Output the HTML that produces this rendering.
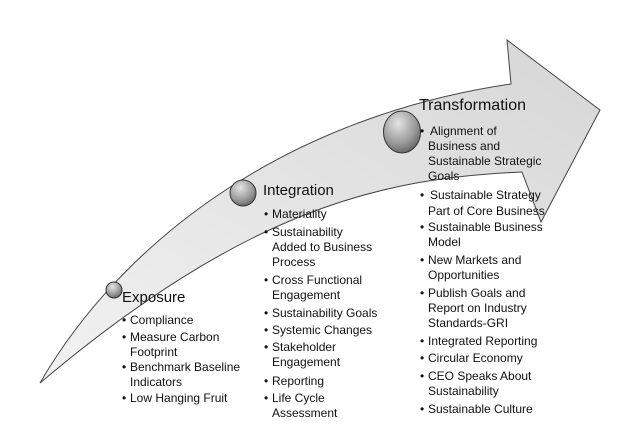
<!DOCTYPE html>
<html><head><style>
body{margin:0;width:640px;height:428px;background:#fff;position:relative;overflow:hidden;font-family:"Liberation Sans",Arial,sans-serif;color:#111}
.t{position:absolute;white-space:nowrap;line-height:15px;font-size:12px}
.h{position:absolute;white-space:nowrap;font-size:15px;line-height:18px}
.b{position:absolute;font-size:12px;line-height:15px}
</style></head><body>
<svg width="640" height="428" style="position:absolute;left:0;top:0">
<defs>
<linearGradient id="g" x1="0" y1="1" x2="1" y2="0"><stop offset="0" stop-color="#f2f2f2"/><stop offset="1" stop-color="#d6d6d6"/></linearGradient>
<radialGradient id="c" cx="0.4" cy="0.3" r="0.8"><stop offset="0" stop-color="#e4e4e4"/><stop offset="0.6" stop-color="#999"/><stop offset="1" stop-color="#555"/></radialGradient>
</defs>
<path d="M40,383 C120,245 280,118 511,84 L507,40 L600,110 L541,222 L522,172 C380,178 245,210 40,383 Z" fill="url(#g)" stroke="#444" stroke-width="1"/>
<ellipse cx="114" cy="290" rx="8" ry="8" fill="url(#c)" stroke="#333"/>
<ellipse cx="243" cy="193" rx="13" ry="13" fill="url(#c)" stroke="#333"/>
<ellipse cx="402" cy="132" rx="18.5" ry="21" fill="url(#c)" stroke="#333"/>
</svg>
<div class="h" style="left:122px;top:289px">Exposure</div>
<div class="t" style="left:130px;top:313px">Compliance</div>
<div class="t" style="left:130px;top:330px">Measure Carbon<br>Footprint</div>
<div class="t" style="left:130px;top:360px">Benchmark Baseline<br>Indicators</div>
<div class="t" style="left:130px;top:391px">Low Hanging Fruit</div>
<div class="b" style="left:122px;top:313px">•</div><div class="b" style="left:122px;top:330px">•</div><div class="b" style="left:122px;top:360px">•</div><div class="b" style="left:122px;top:391px">•</div>

<div class="h" style="left:263px;top:182px">Integration</div>
<div class="t" style="left:272px;top:207px">Materiality</div>
<div class="t" style="left:272px;top:225px">Sustainability<br>Added to Business<br>Process</div>
<div class="t" style="left:272px;top:273px">Cross Functional<br>Engagement</div>
<div class="t" style="left:272px;top:306px">Sustainability Goals</div>
<div class="t" style="left:272px;top:323px">Systemic Changes</div>
<div class="t" style="left:272px;top:340px">Stakeholder<br>Engagement</div>
<div class="t" style="left:272px;top:374px">Reporting</div>
<div class="t" style="left:272px;top:391px">Life Cycle<br>Assessment</div>
<div class="b" style="left:264px;top:207px">•</div><div class="b" style="left:264px;top:225px">•</div><div class="b" style="left:264px;top:273px">•</div><div class="b" style="left:264px;top:306px">•</div><div class="b" style="left:264px;top:323px">•</div><div class="b" style="left:264px;top:340px">•</div><div class="b" style="left:264px;top:374px">•</div><div class="b" style="left:264px;top:391px">•</div>

<div class="h" style="left:419px;top:97px;font-size:16px">Transformation</div>
<div class="t" style="left:430px;top:124px">Alignment of</div>
<div class="t" style="left:428px;top:139px">Business and<br>Sustainable Strategic<br>Goals</div>
<div class="t" style="left:430px;top:188px">Sustainable Strategy</div>
<div class="t" style="left:428px;top:204px">Part of Core Business</div>
<div class="t" style="left:428px;top:220px">Sustainable Business<br>Model</div>
<div class="t" style="left:428px;top:253px">New Markets and<br>Opportunities</div>
<div class="t" style="left:428px;top:286px">Publish Goals and<br>Report on Industry<br>Standards-GRI</div>
<div class="t" style="left:428px;top:334px">Integrated Reporting</div>
<div class="t" style="left:428px;top:351px">Circular Economy</div>
<div class="t" style="left:428px;top:369px">CEO Speaks About<br>Sustainability</div>
<div class="t" style="left:428px;top:402px">Sustainable Culture</div>
<div class="b" style="left:420px;top:124px">•</div><div class="b" style="left:420px;top:188px">•</div><div class="b" style="left:420px;top:220px">•</div><div class="b" style="left:420px;top:253px">•</div><div class="b" style="left:420px;top:286px">•</div><div class="b" style="left:420px;top:334px">•</div><div class="b" style="left:420px;top:351px">•</div><div class="b" style="left:420px;top:369px">•</div><div class="b" style="left:420px;top:402px">•</div>
</body></html>
